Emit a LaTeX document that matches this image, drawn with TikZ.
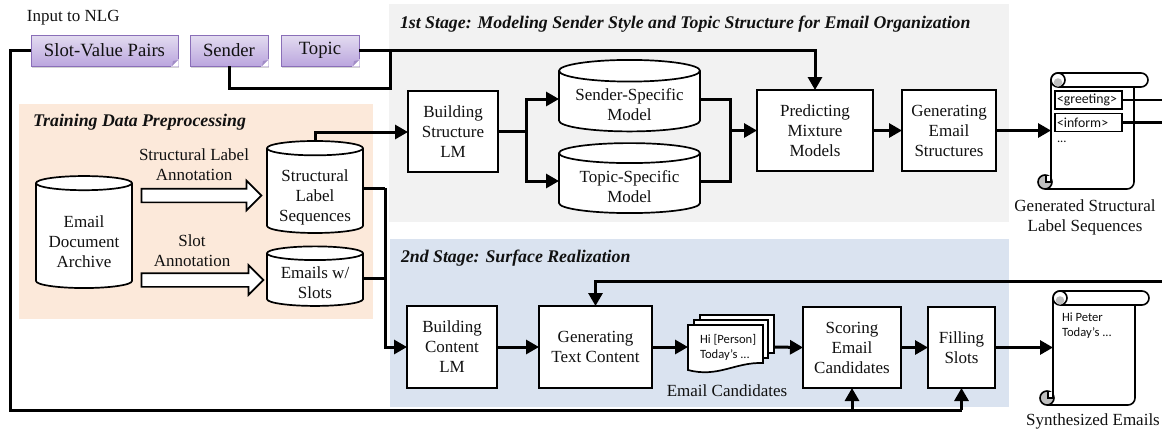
\documentclass[tikz,border=0pt]{standalone}
\usepackage{fontspec}
\setmainfont{Liberation Serif}
\newfontfamily\cali{Carlito}
\usetikzlibrary{arrows.meta,shapes.geometric,shapes.arrows,shadows}
\definecolor{panelgray}{HTML}{F2F2F2}
\definecolor{panelblue}{HTML}{DAE3F0}
\definecolor{panelpeach}{HTML}{FCE9DA}
\definecolor{notetop}{HTML}{E3DCF0}
\definecolor{notebot}{HTML}{BBA6DE}
\definecolor{noteline}{HTML}{8A6FB8}
\definecolor{curl}{HTML}{BFBFBF}
\definecolor{txt}{HTML}{111111}
\tikzset{
  x=1pt,y=-1pt,
  every node/.style={font=\fontsize{17}{20}\selectfont,text=txt,align=center,inner sep=0pt,outer sep=0pt},
  procbox/.style={draw=black,fill=white,line width=1.7pt},
  store/.style={draw=black,fill=white,line width=1.7pt,shape=cylinder,shape border rotate=90,aspect=.2},
  conn/.style={draw=black,line width=3pt,line join=miter},
  arr/.style={conn,-{Triangle[length=13pt,width=14pt]}},
  hollow/.style={draw=black,fill=white,line width=1.7pt,single arrow,single arrow head extend=8pt,single arrow head indent=0pt,minimum width=29pt},
  notebox/.style={draw=noteline,line width=1pt,top color=notetop,bottom color=notebot,font=\fontsize{18.7}{20}\selectfont,drop shadow={shadow xshift=1pt,shadow yshift=-1.5pt,opacity=.35}},
  title/.style={font=\fontsize{17.8}{20}\selectfont\bfseries\itshape,anchor=west},
  small/.style={font=\fontsize{12.6}{15}\selectfont\cali,align=left,anchor=west},
  tag/.style={draw=black,line width=1.5pt,fill=white,font=\fontsize{13.8}{14}\selectfont\cali,anchor=west,text width=63pt,align=left,inner xsep=2pt,minimum height=18pt},
  scrollline/.style={draw=black,line width=1.6pt,line join=round},
}
\newcommand{\scrollat}[6]{% name, x, y, w(body), h, bandright
  \node[minimum width=#4 pt,minimum height=#5 pt] (#1) at (#2+#4/2,#3+#5/2) {};
  \fill[white,rounded corners=6pt] (#2,#3) -- (#2+#6,#3) -- (#2+#6,#3+14) -- (#2+#4,#3+14) -- (#2+#4,#3+#5) -- (#2,#3+#5) -- cycle;
  \draw[scrollline,rounded corners=7pt] (#2,#3+#5-7) -- (#2,#3) -- (#2+#6,#3) -- (#2+#6,#3+14) -- (#2+7,#3+14);
  \draw[scrollline,rounded corners=7pt] (#2-6,#3+#5) -- (#2+#4,#3+#5) -- (#2+#4,#3+14);
  \draw[scrollline,fill=white] (#2+7,#3+7) circle[radius=7pt];
  \fill[curl] (#2+7,#3+9.5) circle[radius=4.3pt];
  \draw[scrollline,fill=curl] (#2-6,#3+#5-7) circle[radius=7pt];
  \fill[white] (#2-5,#3+#5-13) rectangle (#2+0,#3+#5-7);
  \draw[line width=1.2pt] (#2-5,#3+#5-13) -- (#2-5,#3+#5-7) -- (#2,#3+#5-7);
  \draw[scrollline] (#2,#3+#5-14) -- (#2,#3+#5-6);
}
\begin{document}
\begin{tikzpicture}
\useasboundingbox (0,0) rectangle (1162,432);
% panels
\fill[panelgray] (389,4) rectangle (1009,222);
\fill[panelblue] (390,239) rectangle (1009,407);
\fill[panelpeach] (19,104) rectangle (373,319);
% titles
\node[title] (t1) at (400,24) {1st Stage: Modeling Sender Style and Topic Structure for Email Organization};
\node[title] (t2) at (401,258) {2nd Stage: Surface Realization};
\node[title] (t3) at (33,122) {Training Data Preprocessing};
\node[anchor=west] (inp) at (27,18) {Input to NLG};
% notes
\node[notebox,minimum width=147pt,minimum height=31pt] (svp) at (104.5,50.5) {Slot-Value Pairs};
\node[notebox,minimum width=78pt,minimum height=31pt] (snd) at (229,50.5) {Sender};
\node[notebox,minimum width=78pt,minimum height=31pt] (tpc) at (320,50.5) {Topic};
\foreach \n in {svp,snd,tpc}{
  \fill[white] ([xshift=-7pt,yshift=-.5pt]\n.south east) -- ([xshift=.5pt,yshift=7pt]\n.south east) -- ([xshift=.5pt,yshift=-.5pt]\n.south east) -- cycle;
  \fill[noteline!80] ([xshift=-6pt]\n.south east) -- ([yshift=6pt]\n.south east) -- ([xshift=-5pt,yshift=5pt]\n.south east) -- cycle;
}
% stores
\node[store,minimum width=96pt,minimum height=112pt] (arch) at (84,236) {\rule{0pt}{22.6pt}Email\\Document\\Archive};
\node[store,minimum width=96pt,minimum height=92pt] (sseq) at (315,191) {\rule{0pt}{24.6pt}Structural\\Label\\Sequences};
\node[store,minimum width=96pt,minimum height=58pt] (eslot) at (315,280) {\rule{0pt}{18pt}Emails w/\\Slots};
\node[store,minimum width=141pt,minimum height=63pt] (smod) at (629.5,101.5) {\rule{0pt}{18pt}Sender-Specific\\Model};
\node[store,minimum width=141pt,minimum height=63pt] (tmod) at (629.5,183.5) {\rule{0pt}{19pt}Topic-Specific\\Model};
% hollow arrows
\node[hollow,minimum height=120pt] (ha1) at (198,195.5) {\rule{0pt}{12pt}};
\node[hollow,minimum height=122pt] (ha2) at (199,280) {\rule{0pt}{12pt}};
\node (l1) at (194,165) {Structural Label\\Annotation};
\node (l2) at (192,251) {Slot\\Annotation};
% boxes
\node[procbox,minimum width=90pt,minimum height=81pt] (bsl) at (453,131.5) {Building\\Structure\\LM};
\node[procbox,minimum width=116pt,minimum height=81pt] (pmm) at (815,130.5) {Predicting\\Mixture\\Models};
\node[procbox,minimum width=94pt,minimum height=81pt] (ges) at (949,130.5) {Generating\\Email\\Structures};
\node[procbox,minimum width=90pt,minimum height=82pt] (bcl) at (452,347) {Building\\Content\\LM};
\node[procbox,minimum width=113pt,minimum height=82pt] (gtc) at (595.5,347) {Generating\\Text Content};
\node[procbox,minimum width=98pt,minimum height=81pt] (sec) at (852,347.5) {Scoring\\Email\\Candidates};
\node[procbox,minimum width=67pt,minimum height=81pt] (fsl) at (961.5,347.5) {Filling\\Slots};
% candidates
\node[minimum width=86pt,minimum height=57pt] (cand) at (731,347) {};
\draw[procbox] (700,315) rectangle (774,353);
\draw[procbox] (694,320) rectangle (768,358);
\draw[procbox] (688,325) -- (763,325) -- (763,363) .. controls (735,362) and (718,378) .. (688,370) -- cycle;
\node[small] (ctxt) at (700,347) {Hi [Person]\\Today’s ...};
\node (clab) at (727,391) {Email Candidates};
% scrolls
\scrollat{sc1}{1051}{73}{83}{116}{97}
\scrollat{sc2}{1053}{291}{82}{114}{96}
\coordinate (r1) at (1162,100);
\coordinate (r2) at (1162,122);
\coordinate (r3) at (1162,281);
\node[tag] (gr) at (1055,100) {<greeting>};
\node[tag] (inf) at (1055,122.5) {<inform>};
\node[small] (dots) at (1057,142) {...};
\node[small] (synth) at (1062,326) {Hi Peter\\Today’s ...};
\node (lab1) at (1085,217) {Generated Structural\\Label Sequences};
\node (lab2) at (1093,421) {Synthesized Emails};
% junction coordinates
\coordinate (j1) at (390,50.5);
\coordinate (j2) at (390,88);
\coordinate (j3) at (526,131.5);
\coordinate (j4) at (730,130.5);
\coordinate (j5) at (385,188);
\coordinate (j6) at (10,50.5);
\coordinate (j7) at (10,410);
\coordinate (j8) at (852,410);
\coordinate (j9) at (961.5,410);
% connectors
\draw[arr] (tpc.east) -- (pmm.north |- tpc.east) -- (pmm.north);
\draw[conn] (snd.south) |- (j2) -- (j1);
\draw[conn] (svp.west) -- (j6) -- (j7) -- (j9);
\draw[arr] (j8) -- (sec.south);
\draw[arr] (j9) -- (fsl.south);
\draw[arr] (sseq.north) |- (bsl.west |- 0,132);
\draw[arr] (bsl.east) -- (j3) |- (smod.west |- 0,99);
\draw[arr] (j3) |- (tmod.west |- 0,181);
\draw[conn] (smod.east |- 0,99) -| (j4);
\draw[conn] (tmod.east |- 0,181) -| (j4);
\draw[arr] (j4) -- (pmm.west);
\draw[arr] (pmm.east) -- (ges.west);
\draw[arr] (ges.east) -- (sc1.west |- ges.east);
\draw[conn] (sseq.east |- 0,188) -- (j5);
\draw[conn] (eslot.east |- 0,278) -- (j5 |- 0,278);
\draw[arr] (j5) |- (bcl.west);
\draw[arr] (bcl.east) -- (gtc.west);
\draw[arr] (gtc.east) -- (cand.west);
\draw[arr] (cand.east) -- (sec.west);
\draw[arr] (sec.east) -- (fsl.west);
\draw[arr] (fsl.east) -- (sc2.west |- fsl.east);
\draw[arr] (r3) -| (gtc.north);
\draw[conn,line width=2.4pt] (gr.east) -- (r1 |- gr.east);
\draw[conn,line width=2.4pt] (inf.east) -- (r2 |- inf.east);
\end{tikzpicture}
\end{document}
